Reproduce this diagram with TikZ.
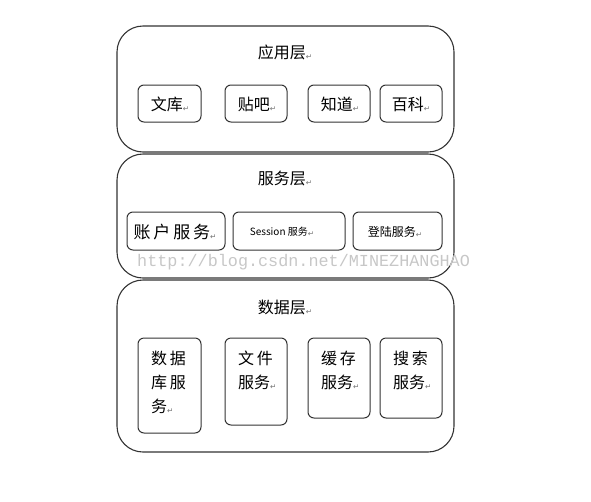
\documentclass[tikz,border=0pt]{standalone}
\usepackage{fontspec}
\newfontfamily\cjk{Noto Sans CJK SC}
\newfontfamily\djv{DejaVu Sans}
\newfontfamily\monow{Liberation Mono}
\newcommand\rt{\raisebox{-1pt}{\djv\fontsize{7.5}{8}\selectfont\color{black!55}↵}}
\begin{document}
\begin{tikzpicture}[x=1pt,y=-1pt,
  layer/.style={draw=black!80, line width=1.1pt, rounded corners=26pt},
  item/.style={draw=black!80, line width=1pt, rounded corners=6pt},
  lbl/.style={font=\cjk\fontsize{16}{24}\selectfont, inner sep=0pt, align=left},
  ttl/.style={font=\cjk\fontsize{16}{18}\selectfont, inner sep=0pt}
]
\useasboundingbox (0,0) rectangle (591,501);
% layers
\draw[layer] (117,26) rectangle (454,152);
\draw[layer] (117,154) rectangle (454,278);
\draw[layer] (117,280) rectangle (454,452);
% titles
\node[ttl] (t1) at (285,52) {应用层\rt};
\node[ttl] (t2) at (285,178) {服务层\rt};
\node[ttl] (t3) at (285,307) {数据层\rt};
% app layer items
\draw[item] (138,85) rectangle (201,122);
\node[lbl] (a1) at (170,104) {文库\rt};
\draw[item] (225,85) rectangle (287,122);
\node[lbl] (a2) at (257,104) {贴吧\rt};
\draw[item] (308,85) rectangle (370,122);
\node[lbl] (a3) at (340,104) {知道\rt};
\draw[item] (380,85) rectangle (442,122);
\node[lbl] (a4) at (411,104) {百科\rt};
% service layer items
\draw[item] (127,212) rectangle (225,250);
\node[lbl,font=\cjk\fontsize{17}{20}\selectfont] (s1) at (175,232) {账\,户\,服\,务\rt};
\draw[item] (233,212) rectangle (345,250);
\node[lbl,font=\cjk\fontsize{10}{12}\selectfont] (s2) at (282,232) {Session 服务\rt};
\draw[item] (353,212) rectangle (442,250);
\node[lbl,font=\cjk\fontsize{12}{14}\selectfont] (s3) at (395,232) {登陆服务\rt};
% watermark
\node[font=\monow\fontsize{16.8}{18}\selectfont, text=black!22, inner sep=0pt, anchor=west] (wm) at (137,262) {http://blog.csdn.net/MINEZHANGHAO};
% data layer items
\draw[item] (138,338) rectangle (201,433);
\node[lbl,anchor=north west] (d1) at (151,351) {数\,据\\库\,服\\务\rt};
\draw[item] (225,338) rectangle (287,425);
\node[lbl,anchor=north west] (d2) at (238,351) {文\,件\\服务\rt};
\draw[item] (308,338) rectangle (370,418);
\node[lbl,anchor=north west] (d3) at (321,351) {缓\,存\\服务\rt};
\draw[item] (380,338) rectangle (442,418);
\node[lbl,anchor=north west] (d4) at (393,351) {搜\,索\\服务\rt};
\end{tikzpicture}
\end{document}
